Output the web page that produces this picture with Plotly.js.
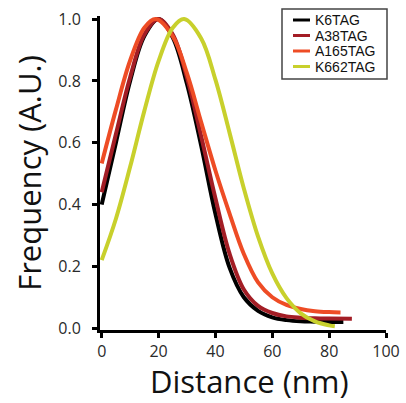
<!DOCTYPE html>
<html>
<head>
<meta charset="utf-8">
<script src="https://cdn.plot.ly/plotly-3.0.1.min.js"></script>
<style>html,body{margin:0;padding:0;background:#fff;}#chart{width:406px;height:403px;}</style>
</head>
<body>
<div id="chart"></div>
<script>
// Distance (nm) sample positions per series
const xK6 = [0,5,10,15,20,25,30,35,40,45,50,55,60,65,70,75,80,85];
const yK6 = [0.40,0.60,0.80,0.945,1.0,0.94,0.79,0.59,0.37,0.195,0.10,0.056,0.035,0.026,0.022,0.021,0.020,0.020];

const xA38 = [0,5,10,15,20,25,30,35,40,45,50,55,60,65,70,75,80,88];
const yA38 = [0.44,0.628,0.812,0.950,1.0,0.950,0.81,0.62,0.42,0.24,0.125,0.072,0.049,0.038,0.034,0.032,0.031,0.030];

const xA165 = [0,5,10,15,19,25,30,35,40,45,50,55,60,65,70,75,80,84];
const yA165 = [0.533,0.707,0.866,0.972,1.0,0.944,0.824,0.666,0.51,0.37,0.24,0.148,0.10,0.075,0.062,0.055,0.052,0.051];

const xK662 = [0,5,10,15,20,25,29,35,40,45,50,55,60,65,70,75,80,82];
const yK662 = [0.22,0.354,0.522,0.703,0.864,0.972,1.0,0.937,0.804,0.631,0.452,0.296,0.177,0.097,0.048,0.022,0.009,0.006];

const seriesNames = ["K6TAG","A38TAG","A165TAG","K662TAG"];
const seriesColors = ["#000000","#a31d25","#ee4c25","#c8d02c"];
const xTicks = [0,20,40,60,80,100];
const yTicks = [0.0,0.2,0.4,0.6,0.8,1.0];
const yTickText = ["0.0","0.2","0.4","0.6","0.8","1.0"];
const xTitle = "Distance (nm)";
const yTitle = "Frequency (A.U.)";

const xs = [xK6, xA38, xA165, xK662];
const ys = [yK6, yA38, yA165, yK662];

const traces = seriesNames.map((n,i)=>({
  x: xs[i], y: ys[i], name: n, type: 'scatter', mode: 'lines', showlegend: false,
  line: {color: seriesColors[i], width: 4, shape: 'spline', smoothing: 1}
}));

// Manual legend (box, line samples, labels) in paper coordinates
const plotL = 100, plotT = 16, plotW = 286, plotH = 314;
const px2x = p => (p - plotL) / plotW;
const py2y = p => (plotT + plotH - p) / plotH;
const shapes = [{
  type: 'rect', xref: 'paper', yref: 'paper',
  x0: px2x(282), x1: px2x(387), y0: py2y(79), y1: py2y(9),
  line: {color: '#444', width: 1.5}, fillcolor: '#fff', layer: 'above'
}];
const annotations = [];
seriesNames.forEach((n,i)=>{
  const yy = 20 + i * 15.5;
  shapes.push({type: 'line', xref: 'paper', yref: 'paper',
    x0: px2x(293), x1: px2x(310), y0: py2y(yy), y1: py2y(yy),
    line: {color: seriesColors[i], width: 3}, layer: 'above'});
  annotations.push({xref: 'paper', yref: 'paper', x: px2x(313), y: py2y(yy),
    xanchor: 'left', yanchor: 'middle', showarrow: false, text: n,
    font: {family: "Liberation Sans, Arial, sans-serif", size: 14, color: '#111'}});
});
annotations.push({xref: 'paper', yref: 'paper', x: px2x(249), y: py2y(381),
  xanchor: 'center', yanchor: 'middle', showarrow: false, text: xTitle,
  font: {family: "Open Sans, sans-serif", size: 31, color: '#111'}});

const tickFont = {family: "Open Sans, sans-serif", size: 16, color: "#2a2a2a"};
const layout = {
  width: 406, height: 403,
  margin: {l: 100, r: 20, t: 16, b: 73, pad: 0},
  paper_bgcolor: '#fff', plot_bgcolor: '#fff',
  showlegend: false,
  shapes: shapes, annotations: annotations,
  xaxis: {
    range: [-0.6, 100], tickvals: xTicks, ticktext: xTicks.map(String),
    showgrid: false, zeroline: false, showline: true, linecolor: '#000', linewidth: 3,
    ticks: 'outside', ticklen: 5, tickwidth: 3, tickcolor: '#000',
    tickfont: tickFont
  },
  yaxis: {
    range: [-0.006, 1.01], tickvals: yTicks, ticktext: yTickText,
    showgrid: false, zeroline: false, showline: true, linecolor: '#000', linewidth: 3,
    ticks: 'outside', ticklen: 5, tickwidth: 3, tickcolor: '#000',
    tickfont: tickFont, ticklabelstandoff: 8,
    title: {text: yTitle, font: {family: "Open Sans, sans-serif", size: 31, color: '#111'}, standoff: 8}
  }
};
Plotly.newPlot('chart', traces, layout, {displayModeBar: false, staticPlot: true});
</script>
</body>
</html>
